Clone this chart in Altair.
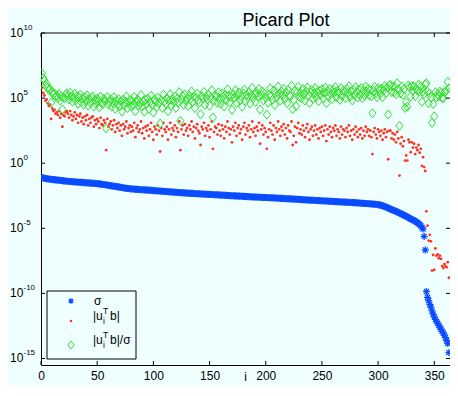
import altair as alt
import numpy as np
import pandas as pd

# log10 of the singular values sigma_i, i = 1..363
log_sigma = [
    -1.10, -1.13, -1.15, -1.17, -1.19, -1.20, -1.21, -1.23, -1.24, -1.25,
    -1.26, -1.27, -1.28, -1.29, -1.30, -1.31, -1.32, -1.33, -1.34, -1.36,
    -1.37, -1.37, -1.38, -1.39, -1.40, -1.41, -1.41, -1.42, -1.43, -1.44,
    -1.44, -1.45, -1.46, -1.46, -1.47, -1.47, -1.48, -1.49, -1.49, -1.50,
    -1.51, -1.51, -1.52, -1.53, -1.53, -1.54, -1.55, -1.55, -1.56, -1.57,
    -1.58, -1.59, -1.61, -1.62, -1.63, -1.64, -1.66, -1.67, -1.68, -1.70,
    -1.71, -1.73, -1.74, -1.76, -1.77, -1.78, -1.80, -1.81, -1.82, -1.84,
    -1.85, -1.87, -1.88, -1.90, -1.92, -1.93, -1.94, -1.95, -1.96, -1.97,
    -1.98, -1.98, -1.99, -2.00, -2.00, -2.01, -2.02, -2.02, -2.03, -2.04,
    -2.04, -2.05, -2.06, -2.06, -2.07, -2.07, -2.08, -2.09, -2.09, -2.10,
    -2.11, -2.11, -2.12, -2.13, -2.13, -2.14, -2.15, -2.15, -2.16, -2.17,
    -2.17, -2.18, -2.19, -2.19, -2.20, -2.21, -2.21, -2.22, -2.23, -2.24,
    -2.24, -2.25, -2.25, -2.26, -2.27, -2.27, -2.28, -2.28, -2.29, -2.30,
    -2.30, -2.31, -2.31, -2.32, -2.32, -2.33, -2.33, -2.34, -2.34, -2.35,
    -2.35, -2.36, -2.36, -2.37, -2.37, -2.38, -2.38, -2.39, -2.39, -2.40,
    -2.40, -2.41, -2.41, -2.42, -2.42, -2.43, -2.43, -2.44, -2.44, -2.45,
    -2.45, -2.46, -2.46, -2.47, -2.47, -2.48, -2.48, -2.49, -2.49, -2.50,
    -2.50, -2.51, -2.51, -2.52, -2.52, -2.53, -2.53, -2.54, -2.54, -2.55,
    -2.55, -2.56, -2.56, -2.57, -2.57, -2.58, -2.58, -2.59, -2.59, -2.60,
    -2.60, -2.60, -2.61, -2.61, -2.62, -2.62, -2.63, -2.63, -2.63, -2.64,
    -2.64, -2.65, -2.65, -2.66, -2.66, -2.66, -2.67, -2.67, -2.68, -2.68,
    -2.69, -2.69, -2.70, -2.70, -2.71, -2.71, -2.72, -2.72, -2.73, -2.73,
    -2.74, -2.74, -2.75, -2.75, -2.76, -2.76, -2.77, -2.77, -2.78, -2.79,
    -2.79, -2.80, -2.80, -2.81, -2.81, -2.82, -2.82, -2.83, -2.83, -2.84,
    -2.84, -2.85, -2.85, -2.86, -2.86, -2.87, -2.87, -2.88, -2.88, -2.89,
    -2.89, -2.90, -2.90, -2.91, -2.91, -2.92, -2.92, -2.93, -2.93, -2.94,
    -2.94, -2.95, -2.95, -2.96, -2.96, -2.97, -2.97, -2.98, -2.98, -2.99,
    -2.99, -3.00, -3.00, -3.01, -3.01, -3.02, -3.02, -3.03, -3.03, -3.04,
    -3.05, -3.05, -3.06, -3.06, -3.07, -3.08, -3.08, -3.09, -3.09, -3.10,
    -3.11, -3.12, -3.12, -3.13, -3.14, -3.15, -3.15, -3.16, -3.17, -3.18,
    -3.20, -3.22, -3.24, -3.27, -3.30, -3.33, -3.37, -3.41, -3.44, -3.48,
    -3.52, -3.56, -3.60, -3.63, -3.67, -3.70, -3.74, -3.78, -3.82, -3.86,
    -3.91, -3.95, -3.99, -4.04, -4.08, -4.13, -4.18, -4.22, -4.27, -4.32,
    -4.36, -4.41, -4.45, -4.51, -4.57, -4.63, -4.71, -4.80, -4.92, -5.05,
    -5.62, -6.66, -9.85, -10.30, -10.55, -10.85, -11.05, -11.35, -11.60, -11.80,
    -12.00, -12.15, -12.30, -12.45, -12.60, -12.75, -12.90, -13.05, -13.20, -13.40,
    -13.60, -13.85, -14.55,
]

# log10 of |u_i^T b|, i = 1..363
log_utb = [
    5.8, 5.4, 5.2, 4.8, 4.9, 4.6, 4.4, 4.5, 3.4, 4.2,
    4.0, 4.1, 3.8, 3.9, 3.7, 4.0, 3.5, 3.8, 2.8, 3.7,
    3.6, 3.9, 4.0, 3.8, 3.5, 4.0, 3.7, 3.3, 3.6, 3.9,
    3.4, 3.7, 3.1, 3.6, 3.8, 3.2, 3.5, 3.0, 3.6, 3.3,
    3.7, 2.9, 3.4, 3.1, 3.5, 3.6, 2.8, 3.3, 3.0, 3.4,
    3.2, 2.7, 3.5, 3.0, 2.9, 3.3, 3.1, 1.0, 3.4, 2.8,
    3.0, 3.2, 2.6, 2.9, 3.3, 2.4, 3.0, 2.7, 3.1, 2.5,
    2.9, 2.1, 3.0, 2.6, 2.8, 3.2, 2.3, 2.7, 2.9, 2.4,
    2.8, 2.5, 3.1, 2.0, 2.7, 2.9, 2.4, 2.6, 3.2, 2.3,
    2.7, 1.9, 2.8, 2.5, 2.9, 2.1, 2.6, 3.1, 2.4, 1.8,
    2.8, 2.6, 2.2, 2.9, 2.5, 0.9, 2.7, 2.1, 3.1, 2.6,
    2.4, 2.8, 1.8, 2.6, 3.1, 2.2, 2.7, 2.5, 2.9, 2.0,
    2.7, 2.4, 3.2, 1.0, 2.6, 2.9, 2.2, 3.0, 2.5, 2.7,
    2.1, 2.9, 2.6, 3.2, 2.4, 2.8, 1.9, 2.7, 3.0, 2.5,
    2.3, 1.4, 2.8, 2.6, 3.1, 2.1, 2.7, 2.5, 2.9, 2.0,
    2.6, 3.2, 1.1, 2.4, 2.8, 2.7, 2.2, 3.0, 2.5, 2.1,
    2.9, 2.6, 1.9, 2.8, 2.4, 3.2, 2.7, 2.2, 2.6, 1.6,
    2.8, 2.5, 3.1, 2.1, 2.7, 2.9, 2.3, 2.6, 1.8, 2.8,
    3.1, 2.2, 2.7, 2.5, 2.9, 2.0, 2.6, 3.2, 2.4, 2.7,
    2.1, 2.8, 2.5, 3.1, 1.5, 2.6, 2.9, 2.2, 2.7, 2.4,
    1.1, 2.0, 2.6, 3.1, 2.5, 2.2, 2.9, 1.8, 2.7, 2.4,
    3.2, 2.6, 2.1, 2.8, 2.5, 3.0, 2.2, 2.7, 1.9, 2.9,
    2.5, 2.4, 3.2, 1.4, 2.1, 2.8, 1.6, 2.7, 3.1, 2.3,
    2.6, 2.2, 2.9, 2.5, 2.0, 2.7, 3.0, 2.4, 1.8, 2.6,
    2.8, 2.1, 2.5, 2.9, 2.2, 2.6, 1.9, 2.7, 2.4, 2.8,
    2.1, 2.5, 2.9, 1.7, 2.6, 2.2, 2.8, 2.4, 2.0, 2.7,
    2.5, 2.9, 2.1, 2.6, 2.4, 1.9, 2.8, 2.2, 2.6, 2.5,
    2.0, 2.7, 2.4, 2.9, 2.1, 2.5, 1.8, 2.6, 2.2, 2.8,
    2.4, 2.0, 2.6, 2.2, 2.7, 1.9, 2.5, 2.1, 2.8, 2.4,
    2.6, 2.1, 2.5, 2.0, 0.7, 2.4, 2.7, 2.2, 1.9, 2.6,
    2.4, 2.1, 2.5, 1.8, 2.3, 2.6, 2.0, 2.4, 0.3, 2.5,
    2.5, 1.9, 2.3, 1.8, 2.2, 1.6, 2.4, 1.9, -0.95, 1.5,
    2.0, 1.3, 1.7, 0.2, 0.6, 0.2, 1.8, 1.6, 0.85, 1.6,
    1.2, 1.5, 0.7, 1.2, 1.0, 1.4, 0.8, 1.1, -0.2, 0.46,
    -0.3, -0.6, -3.7, -4.8, -5.95, -5.5, -6.0, -8.25, -7.05, -8.2,
    -6.55, -7.1, -7.0, -7.3, -7.1, -7.35, -7.9, -8.05, -7.75, -7.9,
    -8.0, -7.6, -8.8,
]

x_ticks = [0, 50, 100, 150, 200, 250, 300, 350]
y_exponents = [10, 5, 0, -5, -10, -15]
y_exponent_labels = ["10", "5", "0", "-5", "-10", "-15"]
chart_title = "Picard Plot"
x_title = "i"

W, H = 409, 332
BG = "#EFFFFF"
FONT = "Liberation Sans"
BLUE = "#0a4cff"
RED = "#ff3322"
GREEN = "#33e02e"
ASTERISK = "M-1,0L1,0M0,-1L0,1M-0.72,-0.72L0.72,0.72M-0.72,0.72L0.72,-0.72"
DIAMOND = "M0,-1.12L0.9,0L0,1.12L-0.9,0Z"

n = min(len(log_sigma), len(log_utb))
sig = 10.0 ** np.array(log_sigma[:n])
utb = 10.0 ** np.array(log_utb[:n])
df = pd.DataFrame({"i": np.arange(1, n + 1), "sigma": sig, "utb": utb, "ratio": utb / sig})

xs = alt.Scale(domain=[0, 364], nice=False, zero=False)
ys = alt.Scale(type="log", domain=[10 ** -15.5, 1e10], nice=False)

x_axis = alt.Axis(values=x_ticks, tickSize=0, labelPadding=5, labelFontSize=12,
                  labelFont=FONT, labelColor="black", labelFlush=False,
                  domainColor="black", domainWidth=1, grid=False, title=None)
y_axis = alt.Axis(labels=False, ticks=False, grid=False, title=None,
                  domainColor="black", domainWidth=1)


def X(field):
    return alt.X(field, type="quantitative", scale=xs, axis=x_axis)


def Y(field):
    return alt.Y(field, type="quantitative", scale=ys, axis=y_axis)


base = alt.Chart(df)
blue = base.mark_point(shape=ASTERISK, size=50, filled=False, strokeWidth=1.25,
                       color=BLUE, opacity=1, clip=True).encode(x=X("i"), y=Y("sigma"))
red = base.mark_point(shape="circle", size=8, filled=True, color=RED,
                      opacity=1, clip=True).encode(x=X("i"), y=Y("utb"))
green = base.mark_point(shape=DIAMOND, size=64, filled=False, strokeWidth=1,
                        color=GREEN, opacity=1, clip=True).encode(x=X("i"), y=Y("ratio"))

one = alt.Data(values=[{}])

# top border and inward ticks (box style)
top_border = alt.Chart(one).mark_rule(color="black", strokeWidth=1).encode(
    x=alt.value(0), x2=alt.value(W), y=alt.value(0))

xt = pd.DataFrame({"t": x_ticks})
xt_bottom = alt.Chart(xt).mark_rule(color="black").encode(
    x=X("t"), y=alt.value(H), y2=alt.value(H - 4))
xt_top = alt.Chart(xt).mark_rule(color="black").encode(
    x=X("t"), y=alt.value(0), y2=alt.value(4))

yt = pd.DataFrame({"v": [10.0 ** e for e in y_exponents], "lab": y_exponent_labels})
yt_left = alt.Chart(yt).mark_rule(color="black").encode(
    y=Y("v"), x=alt.value(0), x2=alt.value(4))
yt_right = alt.Chart(yt).mark_rule(color="black").encode(
    y=Y("v"), x=alt.value(W - 4), x2=alt.value(W))
y_base = alt.Chart(yt).mark_text(align="left", baseline="middle", fontSize=12,
                                 font=FONT, color="black").encode(
    y=Y("v"), x=alt.value(-31), text=alt.value("10"))
y_exp = alt.Chart(yt).mark_text(align="left", baseline="middle", fontSize=8, dy=-5,
                                font=FONT, color="black").encode(
    y=Y("v"), x=alt.value(-17.5), text="lab:N")

title = alt.Chart(one).mark_text(
    align="center", baseline="alphabetic", fontSize=18, font=FONT, color="black").encode(
    x=alt.value(245), y=alt.value(-7.5), text=alt.value(chart_title))
xlab = alt.Chart(one).mark_text(
    align="center", baseline="alphabetic", fontSize=12, font=FONT, color="black").encode(
    x=alt.value(W / 2), y=alt.value(H + 16), text=alt.value(x_title))

# legend (drawn by hand, MATLAB style)
leg_box = alt.Chart(one).mark_rect(fill=BG, stroke="black", strokeWidth=1).encode(
    x=alt.value(6), x2=alt.value(95), y=alt.value(258), y2=alt.value(326))
leg_b = alt.Chart(one).mark_point(shape=ASTERISK, size=30, filled=False, strokeWidth=1.2,
                                  color=BLUE, opacity=1).encode(x=alt.value(30), y=alt.value(268))
leg_r = alt.Chart(one).mark_point(shape="circle", size=7, filled=True, color=RED,
                                  opacity=1).encode(x=alt.value(30), y=alt.value(288))
leg_g = alt.Chart(one).mark_point(shape=DIAMOND, size=50, filled=False, strokeWidth=1,
                                  color=GREEN, opacity=1).encode(x=alt.value(30), y=alt.value(312))


def txt(s, x, y, size=12):
    return alt.Chart(one).mark_text(align="left", baseline="alphabetic", fontSize=size,
                                    font=FONT, color="black").encode(
        x=alt.value(x), y=alt.value(y), text=alt.value(s))


leg_texts = [
    txt("σ", 53, 272),
    txt("|u", 52, 287), txt("T", 62, 281, 8.5), txt("i", 62, 290.5, 8.5), txt("b|", 69, 287),
    txt("|u", 52, 311), txt("T", 62, 305, 8.5), txt("i", 62, 314.5, 8.5), txt("b|/σ", 69, 311),
]

chart = alt.layer(
    blue, red, green, top_border, xt_bottom, xt_top, yt_left, yt_right,
    y_base, y_exp, title, xlab, leg_box, leg_b, leg_r, leg_g, *leg_texts
).properties(
    width=W, height=H,
    autosize=alt.AutoSizeParams(type="none"),
    padding={"left": 33, "top": 25, "right": 0, "bottom": 20},
    background=BG,
).configure_view(stroke=None)

chart.save("out.html", embed_options={"renderer": "svg", "actions": False})
